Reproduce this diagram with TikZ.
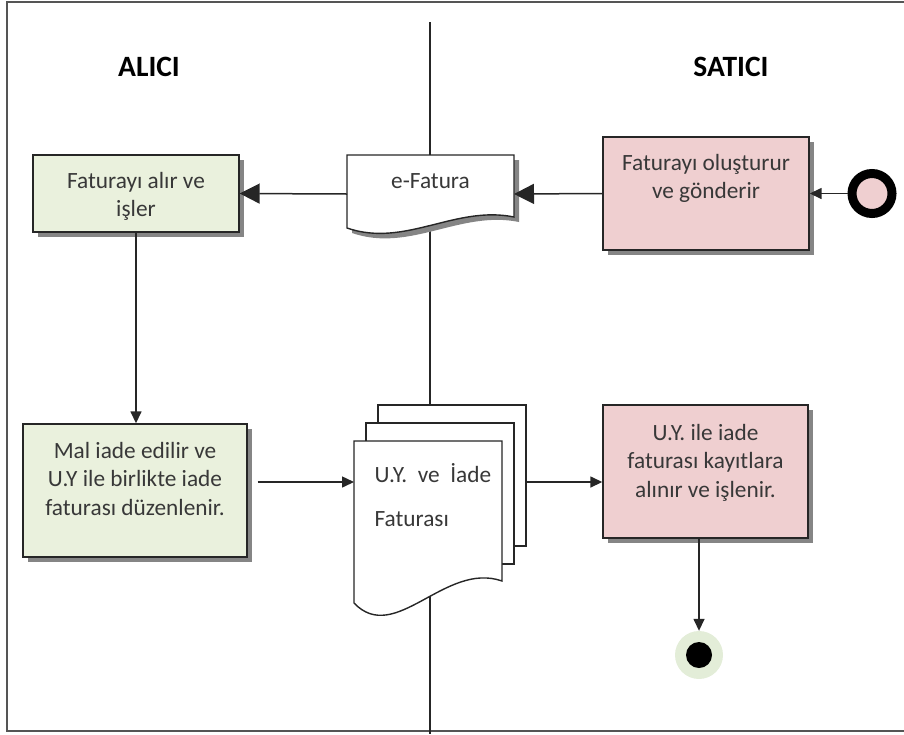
\documentclass[tikz,border=0pt]{standalone}
\usepackage{fontspec}
\setmainfont{Carlito}
\usetikzlibrary{arrows.meta,shadows}
\definecolor{boxgreen}{HTML}{EAF1DD}
\definecolor{boxpink}{HTML}{EFCFD0}
\definecolor{endgreen}{HTML}{E3EDD8}
\definecolor{txtgray}{HTML}{383838}
\definecolor{shadowgray}{HTML}{858585}
\definecolor{linegray}{HTML}{262626}
\definecolor{framegray}{HTML}{555555}
\begin{document}
\begin{tikzpicture}[x=1pt,y=-1pt,
  font=\fontsize{23.3}{28.5}\selectfont,
  procbox/.style={draw=linegray, line width=1.4pt, inner sep=0pt, text=txtgray,
    drop shadow={shadow xshift=5pt, shadow yshift=-5pt, fill=shadowgray, opacity=1}},
  conn/.style={draw=linegray, line width=1.5pt},
  bighead/.style={conn, -{Triangle[length=20pt,width=20pt]}},
  smallhead/.style={conn, -{Triangle[length=12pt,width=11pt]}},
  docshape/.style={draw=linegray, line width=1.4pt, fill=white},
  docframe/.style={inner sep=0pt, outer sep=0pt},
  doctext/.style={text=txtgray},
  title/.style={font=\fontsize{29.5}{31}\selectfont\bfseries, anchor=base},
]
\useasboundingbox (0,0) rectangle (904,734);
% frame and lane divider
\draw[line width=2pt, draw=framegray] (910,2) -- (7,2) -- (7,731) -- (910,731);
\draw[line width=1.4pt, draw=linegray] (430,22) -- (430,734);

% titles
\node[title] (alici) at (149,76.5) {ALICI};
\node[title] (satici) at (731,76.5) {SATICI};

% process boxes
\node[procbox, fill=boxgreen] (b1) at (136,193.5)
  {\parbox[c][77pt][t]{206pt}{\centering\rule{0pt}{33pt}Faturayı alır ve\\işler}};
\node[procbox, fill=boxpink] (p1) at (706,193.5)
  {\parbox[c][113pt][t]{206pt}{\centering\rule{0pt}{33pt}Faturayı oluşturur\\ve gönderir}};
\node[procbox, fill=boxgreen] (b2) at (135,490.5)
  {\parbox[c][133pt][t]{224pt}{\centering\rule{0pt}{34pt}Mal iade edilir ve\\U.Y ile birlikte iade\\faturası düzenlenir.}};
\node[procbox, fill=boxpink] (p2) at (705.5,471.5)
  {\parbox[c][133pt][t]{205pt}{\centering\rule{0pt}{35pt}U.Y. ile iade\\faturası kayıtlara\\alınır ve işlenir.}};

% e-Fatura document
\node[docframe, minimum width=167pt, minimum height=78pt] (efat) at (430.5,194) {};
\begin{scope}[shift={(efat.north west)}]
  \fill[shadowgray, shift={(5,5)}] (0,0) -- (167,0) -- (167,62)
    .. controls (108,50) and (58,93) .. (0,73) -- cycle;
  \path[docshape] (0,0) -- (167,0) -- (167,62)
    .. controls (108,50) and (58,93) .. (0,73) -- cycle;
\end{scope}
\node[doctext, anchor=base] (eft) at (430.5,188) {e-Fatura};

% document stack
\node[docframe, minimum width=148pt, minimum height=141pt] (bk) at (452,475.5) {};
\node[docframe, minimum width=148pt, minimum height=141pt] (md) at (440,493.5) {};
\node[docframe, minimum width=148pt, minimum height=176pt] (fr) at (428,529) {};
\path[docshape] (bk.north west) rectangle (bk.south east);
\path[docshape] (md.north west) rectangle (md.south east);
\begin{scope}[shift={(fr.north west)}]
  \path[docshape] (0,0) -- (148,0) -- (148,140)
    .. controls (91,120) and (41,205) .. (0,162) -- cycle;
\end{scope}
\node[doctext, anchor=base west] (ft1) at (371,482) {U.Y.\ \ ve\ \ İade};
\node[doctext, anchor=base west] (ft2) at (371,526) {Faturası};

% start and end
\node[circle, draw=black, line width=9pt, fill=boxpink, minimum size=40pt, inner sep=0pt] (st) at (872,193.5) {};
\node[circle, fill=endgreen, minimum size=48pt, inner sep=0pt] (en) at (699,655) {};
\node[circle, fill=black, minimum size=26pt, inner sep=0pt] (enin) at (en.center) {};

% connectors
\coordinate (row2) at (0,482);
\draw[smallhead] (st) -- (p1.east);
\draw[bighead] (p1.west) -- (efat.east);
\draw[bighead] (efat.west) -- (b1.east);
\draw[smallhead] (b1.south) -- (b1.south |- b2.north);
\draw[smallhead, shorten <=10pt] (b2.east |- row2) -- (fr.west |- row2);
\draw[smallhead] (bk.east |- row2) -- (p2.west |- row2);
\draw[smallhead] (p2.south -| en) -- (en.north);
\end{tikzpicture}
\end{document}
